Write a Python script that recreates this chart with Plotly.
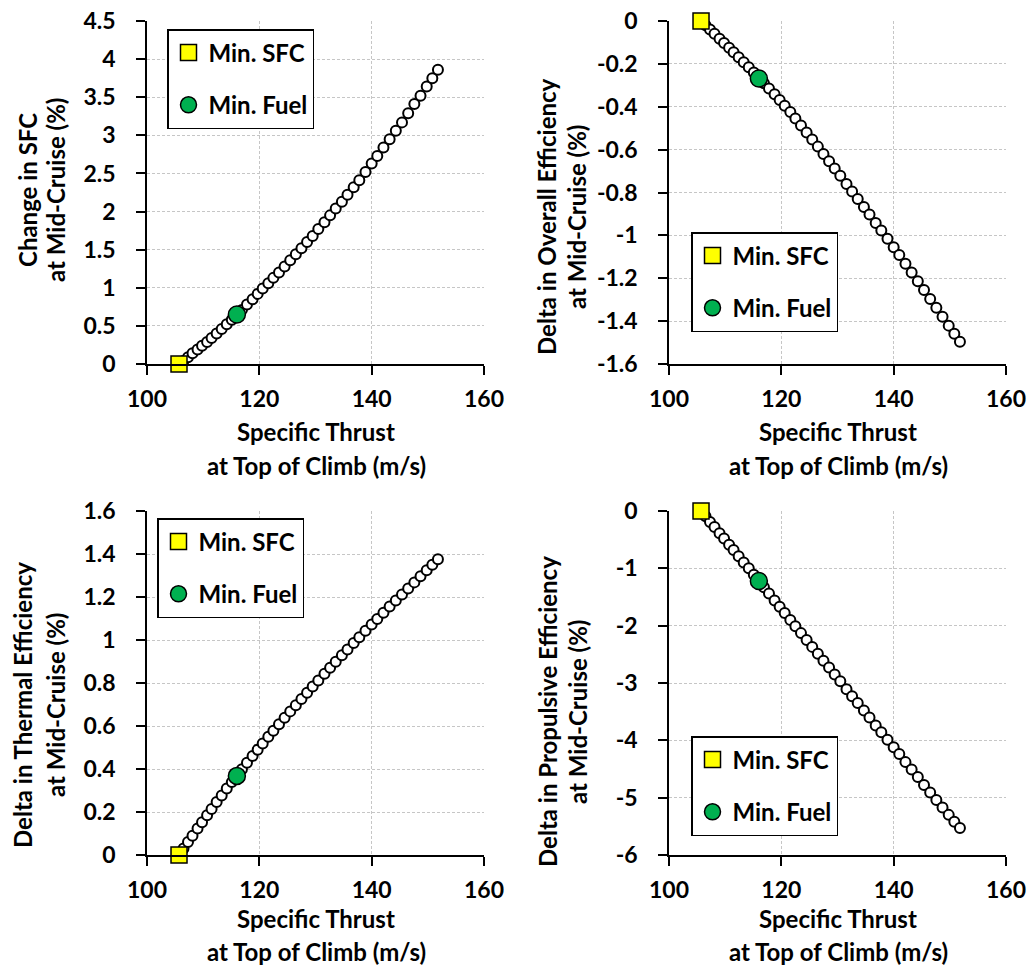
import plotly.graph_objects as go

# ---------------- data ----------------
thrust = [105.7, 106.5, 107.3, 108.1, 109.0, 109.8, 110.7, 111.5, 112.4, 113.3,
          114.2, 115.1, 116.0, 116.9, 117.8, 118.8, 119.7, 120.6, 121.6, 122.5,
          123.5, 124.5, 125.5, 126.5, 127.5, 128.5, 129.5, 130.5, 131.6, 132.6,
          133.6, 134.7, 135.7, 136.8, 137.8, 138.9, 140.0, 141.0, 142.1, 143.2,
          144.3, 145.4, 146.5, 147.6, 148.7, 149.8, 150.8, 151.8]

sfc_change = [0.00, 0.04, 0.09, 0.14, 0.19, 0.24, 0.29, 0.34, 0.40, 0.46,
              0.52, 0.58, 0.65, 0.71, 0.78, 0.85, 0.92, 0.99, 1.06, 1.13,
              1.20, 1.28, 1.36, 1.44, 1.52, 1.60, 1.68, 1.77, 1.86, 1.95,
              2.04, 2.13, 2.22, 2.32, 2.41, 2.52, 2.63, 2.73, 2.84, 2.95,
              3.06, 3.17, 3.29, 3.41, 3.52, 3.64, 3.75, 3.86]

overall_eff = [0.000, -0.020, -0.040, -0.060, -0.083, -0.103, -0.125, -0.146, -0.169, -0.192,
               -0.216, -0.240, -0.266, -0.290, -0.315, -0.342, -0.368, -0.395, -0.425, -0.455,
               -0.487, -0.520, -0.553, -0.586, -0.620, -0.654, -0.688, -0.722, -0.760, -0.795,
               -0.830, -0.868, -0.903, -0.942, -0.977, -1.016, -1.055, -1.092, -1.132, -1.173,
               -1.214, -1.255, -1.297, -1.338, -1.380, -1.421, -1.459, -1.496]

thermal_eff = [0.000, 0.030, 0.060, 0.090, 0.123, 0.152, 0.185, 0.214, 0.246, 0.277,
               0.309, 0.339, 0.369, 0.399, 0.429, 0.461, 0.490, 0.519, 0.550, 0.578,
               0.608, 0.638, 0.668, 0.697, 0.726, 0.755, 0.784, 0.812, 0.843, 0.871,
               0.899, 0.929, 0.956, 0.986, 1.013, 1.043, 1.072, 1.098, 1.127, 1.156,
               1.184, 1.212, 1.240, 1.268, 1.296, 1.324, 1.350, 1.376]

propulsive_eff = [0.00, -0.09, -0.19, -0.28, -0.39, -0.48, -0.59, -0.68, -0.79, -0.90,
                  -1.00, -1.11, -1.22, -1.33, -1.44, -1.56, -1.67, -1.78, -1.90, -2.01,
                  -2.13, -2.25, -2.37, -2.49, -2.61, -2.73, -2.85, -2.97, -3.11, -3.23,
                  -3.35, -3.48, -3.60, -3.74, -3.86, -3.99, -4.12, -4.24, -4.38, -4.51,
                  -4.64, -4.78, -4.91, -5.04, -5.17, -5.30, -5.42, -5.53]

min_sfc_thrust = 105.7
min_sfc_vals = [0.0, 0.0, 0.0, 0.0]
min_fuel_thrust = 116.0
min_fuel_vals = [0.65, -0.268, 0.368, -1.22]

x_ticks = [100, 120, 140, 160]
x_ticklabels = ["100", "120", "140", "160"]
y_ticks = [
    [0, 0.5, 1, 1.5, 2, 2.5, 3, 3.5, 4, 4.5],
    [0, -0.2, -0.4, -0.6, -0.8, -1, -1.2, -1.4, -1.6],
    [0, 0.2, 0.4, 0.6, 0.8, 1, 1.2, 1.4, 1.6],
    [0, -1, -2, -3, -4, -5, -6],
]
y_ticklabels = [
    ["0", "0.5", "1", "1.5", "2", "2.5", "3", "3.5", "4", "4.5"],
    ["0", "-0.2", "-0.4", "-0.6", "-0.8", "-1", "-1.2", "-1.4", "-1.6"],
    ["0", "0.2", "0.4", "0.6", "0.8", "1", "1.2", "1.4", "1.6"],
    ["0", "-1", "-2", "-3", "-4", "-5", "-6"],
]
y_ranges = [[0, 4.5], [-1.6, 0], [0, 1.6], [-6, 0]]
y_titles = [
    ("Change in SFC", "at Mid-Cruise (%)"),
    ("Delta in Overall Efficiency", "at Mid-Cruise (%)"),
    ("Delta in Thermal Efficiency", "at Mid-Cruise (%)"),
    ("Delta in Propulsive Efficiency", "at Mid-Cruise (%)"),
]
x_title = ("Specific Thrust", "at Top of Climb (m/s)")
legend_names = ["Min. SFC", "Min. Fuel"]
series = [sfc_change, overall_eff, thermal_eff, propulsive_eff]

# ---------------- layout geometry (pixels) ----------------
W, H = 1032, 972
FONT = "Lato"
TXT = 24
TICK = 23

def px_x(p):
    return p / W

def px_y(p):
    return 1 - p / H

panels = [
    dict(x0=147, x1=484, y0=21, y1=364),
    dict(x0=669, x1=1006, y0=21, y1=364),
    dict(x0=147, x1=484, y0=511, y1=855),
    dict(x0=669, x1=1006, y0=511, y1=855),
]
legend_pos = [(167, 29), (691, 232), (157, 518), (691, 736)]
ytitle_pos = [((27, 55), 190), ((547, 577), 217), ((22, 55), 705), ((547, 577), 712)]
xtitle_pos = [(316, 431, 465), (838, 431, 465), (316, 918, 951), (838, 918, 951)]

fig = go.Figure()
annotations = []
grid_color = "#c6c6c6"

for i, vals in enumerate(series):
    ax = "" if i == 0 else str(i + 1)
    leg = "legend" if i == 0 else f"legend{i + 1}"
    fig.add_trace(go.Scatter(
        x=thrust, y=vals, mode="markers", showlegend=False,
        xaxis="x" + ax, yaxis="y" + ax, cliponaxis=False,
        marker=dict(symbol="circle", size=10, color="white",
                    line=dict(color="black", width=2)),
    ))
    fig.add_trace(go.Scatter(
        x=[min_sfc_thrust], y=[min_sfc_vals[i]], mode="markers",
        name=legend_names[0], legend=leg, legendgroup=f"s{i}",
        xaxis="x" + ax, yaxis="y" + ax, cliponaxis=False,
        marker=dict(symbol="square", size=16, color="#FFFF00",
                    line=dict(color="black", width=1.5)),
    ))
    fig.add_trace(go.Scatter(
        x=[min_fuel_thrust], y=[min_fuel_vals[i]], mode="markers",
        name=legend_names[1], legend=leg, legendgroup=f"f{i}",
        xaxis="x" + ax, yaxis="y" + ax, cliponaxis=False,
        marker=dict(symbol="circle", size=17, color="#00B050",
                    line=dict(color="black", width=1.5)),
    ))

    p = panels[i]
    axis_common = dict(
        showline=True, linecolor="black", linewidth=1.5,
        ticks="outside", ticklen=9, tickwidth=1.5, tickcolor="black",
        showgrid=True, gridcolor=grid_color, gridwidth=1, griddash="3px,2px",
        zeroline=False, automargin=False,
        tickfont=dict(family=FONT, size=TICK, color="black", weight="bold"),
    )
    fig.layout["xaxis" + ax] = dict(
        domain=[px_x(p["x0"]), px_x(p["x1"])], anchor="y" + ax,
        range=[100, 160], tickvals=x_ticks, ticktext=x_ticklabels,
        ticklabelstandoff=5, **axis_common)
    fig.layout["yaxis" + ax] = dict(
        domain=[px_y(p["y1"]), px_y(p["y0"])], anchor="x" + ax,
        range=y_ranges[i], tickvals=y_ticks[i], ticktext=y_ticklabels[i],
        ticklabelstandoff=16, **axis_common)

    lx, ly = legend_pos[i]
    fig.layout[leg] = dict(
        x=px_x(lx), y=px_y(ly), xanchor="left", yanchor="top",
        bgcolor="white", bordercolor="black", borderwidth=1.5,
        font=dict(family=FONT, size=TXT, color="black", weight="bold"),
        tracegroupgap=18, itemsizing="trace",
    )

    (tx1, tx2), ty = ytitle_pos[i]
    for tx, txt in zip((tx1, tx2), y_titles[i]):
        annotations.append(dict(
            x=px_x(tx), y=px_y(ty), xref="paper", yref="paper",
            text=txt, showarrow=False, textangle=-90,
            xanchor="center", yanchor="middle",
            font=dict(family=FONT, size=TXT, color="black", weight="bold"),
        ))
    cx, yA, yB = xtitle_pos[i]
    for yy, txt in zip((yA, yB), x_title):
        annotations.append(dict(
            x=px_x(cx), y=px_y(yy), xref="paper", yref="paper",
            text=txt, showarrow=False,
            xanchor="center", yanchor="middle",
            font=dict(family=FONT, size=TXT, color="black", weight="bold"),
        ))

fig.update_layout(
    width=W, height=H, autosize=False,
    margin=dict(l=0, r=0, t=0, b=0),
    paper_bgcolor="white", plot_bgcolor="white",
    annotations=annotations,
)

fig.write_html("out.html")
